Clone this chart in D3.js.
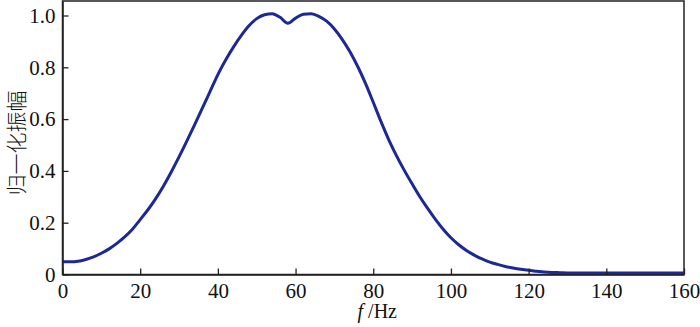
<!DOCTYPE html>
<html>
<head>
<meta charset="utf-8">
<script src="https://cdn.jsdelivr.net/npm/d3@7"></script>
<style>
  body { margin: 0; background: #fff; }
  svg { display: block; }
</style>
</head>
<body>
<div id="chart"></div>
<script>
// frequency (Hz) and normalized amplitude
var freq = [0, 2, 4, 6, 8, 10, 12, 14, 16, 18, 20, 22, 24, 26, 28, 30, 32, 34, 36, 38,
  40, 42, 44, 46, 48, 50, 52, 54, 56, 58, 60, 62, 64, 66, 68, 70, 72, 74, 76, 78,
  80, 82, 84, 86, 88, 90, 92, 94, 96, 98, 100, 102, 104, 106, 108, 110, 112, 114, 116, 118,
  120, 122, 124, 126, 128, 130, 135, 140, 145, 150, 155, 160];
var amp = [0.049, 0.049, 0.051, 0.058, 0.068, 0.082, 0.099, 0.12, 0.145, 0.175, 0.212, 0.25, 0.293, 0.342, 0.396, 0.454, 0.515, 0.578, 0.642, 0.707,
  0.772, 0.828, 0.878, 0.922, 0.96, 0.988, 1.003, 1.007, 0.993, 0.97, 0.99, 1.005, 1.007, 0.997, 0.978, 0.948, 0.908, 0.86, 0.803, 0.738,
  0.665, 0.59, 0.52, 0.458, 0.402, 0.35, 0.3, 0.255, 0.213, 0.175, 0.142, 0.115, 0.093, 0.075, 0.06, 0.048, 0.039, 0.031, 0.025, 0.02,
  0.016, 0.013, 0.01, 0.008, 0.007, 0.006, 0.006, 0.006, 0.006, 0.006, 0.006, 0.006];
var xTicks = [0, 20, 40, 60, 80, 100, 120, 140, 160];
var yTicks = [0, 0.2, 0.4, 0.6, 0.8, 1.0];

var data = freq.map(function (f, i) { return { f: f, a: amp[i] }; });

var width = 700, height = 327;
var plotLeft = 62.5, plotRight = 684, plotTop = 1, plotBottom = 274.5;

var svg = d3.select('#chart').append('svg')
  .attr('width', width)
  .attr('height', height);

var x = d3.scaleLinear().domain([0, 160]).range([plotLeft, plotRight]);
var y = d3.scaleLinear().domain([0, 1.056]).range([plotBottom, plotTop]);

// frame (top and right edges)
svg.append('rect')
  .attr('x', plotLeft)
  .attr('y', plotTop)
  .attr('width', plotRight - plotLeft)
  .attr('height', plotBottom - plotTop)
  .attr('fill', 'none')
  .attr('stroke', '#222')
  .attr('stroke-width', 1.5);

// curve
var line = d3.line()
  .x(function (d) { return x(d.f); })
  .y(function (d) { return y(d.a); })
  .curve(d3.curveMonotoneX);

svg.append('path')
  .datum(data)
  .attr('d', line)
  .attr('fill', 'none')
  .attr('stroke', '#1c2894')
  .attr('stroke-width', 3)
  .attr('stroke-linejoin', 'round');

// axes with inward ticks
var xAxis = svg.append('g')
  .attr('transform', 'translate(0,' + plotBottom + ')')
  .call(d3.axisBottom(x).tickValues(xTicks).tickSizeInner(-6).tickSizeOuter(0).tickPadding(8));

var yAxis = svg.append('g')
  .attr('transform', 'translate(' + plotLeft + ',0)')
  .call(d3.axisLeft(y).tickValues(yTicks)
    .tickFormat(function (d) { return d === 0 ? '0' : d3.format('.1f')(d); })
    .tickSizeInner(-6).tickSizeOuter(0).tickPadding(8));

[xAxis, yAxis].forEach(function (g) {
  g.select('.domain').attr('stroke', '#222').attr('stroke-width', 1.5);
  g.selectAll('.tick line').attr('stroke', '#222').attr('stroke-width', 1.3);
  g.selectAll('.tick text')
    .attr('fill', '#111')
    .style('font-family', '"Liberation Serif", "DejaVu Serif", serif')
    .style('font-size', '21px');
});

xAxis.selectAll('.tick text').attr('dy', '0.72em').attr('y', 8);
yAxis.selectAll('.tick text').attr('x', -7);

// x label
var xl = svg.append('text')
  .attr('x', (plotLeft + plotRight) / 2 + 4)
  .attr('y', 318)
  .attr('text-anchor', 'middle')
  .style('font-family', '"Liberation Serif", serif')
  .style('font-size', '20px')
  .attr('fill', '#111');
xl.append('tspan').style('font-style', 'italic').text('f');
xl.append('tspan').text(' /Hz');

// y label
svg.append('text')
  .attr('transform', 'translate(24,143) rotate(-90)')
  .attr('text-anchor', 'middle')
  .style('font-family', '"Noto Sans CJK SC", sans-serif')
  .style('font-size', '21px')
  .style('font-weight', '300')
  .attr('fill', '#111')
  .text('归一化振幅');
</script>
</body>
</html>
